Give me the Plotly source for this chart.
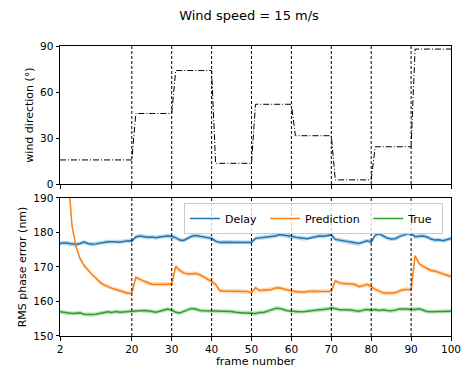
import plotly.graph_objects as go

frames = list(range(2, 101))

delay = [176.8, 177.0, 176.9, 176.6, 176.5, 176.8, 177.2, 176.8, 176.6, 176.7,
         177.0, 177.1, 177.3, 177.4, 177.3, 177.2, 177.5, 177.6, 177.5, 178.7,
         179.0, 178.8, 178.6, 178.7, 178.5, 178.7, 178.9, 179.0, 178.9, 178.5,
         177.8, 177.7, 178.3, 178.9, 179.1, 178.9, 178.6, 178.5, 178.3, 177.5,
         177.1, 177.2, 177.2, 177.3, 177.2, 177.2, 177.3, 177.3, 177.1, 178.3,
         178.4, 178.6, 178.7, 178.8, 179.0, 179.4, 179.3, 179.0, 178.9, 178.6,
         178.4, 178.2, 178.2, 178.5, 178.8, 179.0, 178.9, 179.1, 179.3, 178.0,
         177.8, 177.5, 177.2, 177.0, 176.8, 176.8, 177.2, 177.6, 177.2, 179.2,
         179.6, 179.0, 178.4, 178.1, 178.2, 178.8, 179.3, 179.6, 179.7, 178.8,
         178.9, 179.0, 178.7, 178.1, 177.8, 177.9, 177.6, 178.0, 178.3]

prediction = [260, 215, 197, 182, 176, 172.5, 170.5, 169.0, 167.8, 166.8,
              165.6, 164.8, 164.2, 163.8, 163.5, 163.1, 162.7, 162.4, 162.4, 167.0,
              166.4, 165.9, 165.3, 165.0, 164.9, 165.0, 165.0, 165.0, 165.0, 170.2,
              169.0, 168.3, 168.0, 168.0, 168.1, 167.8, 167.2, 166.5, 165.8, 165.0,
              163.2, 163.0, 163.1, 163.0, 163.0, 163.0, 162.8, 162.9, 162.5, 164.0,
              163.2, 163.3, 163.3, 163.5, 163.9, 164.0, 163.6, 163.3, 163.0, 162.8,
              162.8, 162.7, 162.9, 163.0, 163.0, 162.9, 163.0, 163.0, 163.0, 166.0,
              165.4, 165.2, 165.2, 165.1, 164.9, 164.3, 164.6, 165.0, 164.3, 163.5,
              163.0, 162.5, 162.4, 162.4, 162.5, 163.0, 163.4, 163.5, 163.5, 173.2,
              171.0, 170.2, 169.5, 169.0, 168.8, 168.5, 168.0, 167.6, 167.2]

true_vals = [157.0, 156.8, 156.6, 156.5, 156.6, 156.7, 156.3, 156.2, 156.2, 156.3,
             156.5, 156.8, 157.0, 156.8, 157.1, 156.9, 157.0, 157.1, 157.3, 157.2,
             157.5, 157.4, 157.3, 157.1, 156.9, 157.2, 157.6, 157.8, 157.5, 156.9,
             156.7, 157.1, 157.7, 158.0, 157.8, 157.4, 157.3, 157.3, 157.2, 157.2,
             157.2, 157.3, 157.2, 157.1, 156.9, 156.7, 156.7, 156.7, 156.6, 156.5,
             156.8, 156.8, 157.2, 157.5, 158.0, 158.0, 157.6, 157.3, 157.2, 157.0,
             157.0, 157.0, 157.2, 157.4, 157.5, 157.6, 157.7, 157.8, 158.2, 157.9,
             157.6, 157.6, 157.6, 157.5, 157.3, 157.2, 157.5, 157.7, 157.5, 157.7,
             157.4, 157.6, 157.4, 157.3, 157.5, 157.8, 157.8, 157.8, 157.6, 157.7,
             157.9, 157.4, 157.1, 157.0, 157.0, 157.0, 157.0, 157.2, 157.2]

band_halfwidth = 0.6

wind_frames = [2, 20, 21, 30, 31, 40, 41, 50, 51, 60, 61, 70, 71, 80, 81, 90, 91, 100]
wind_deg = [15.7, 15.7, 46, 46, 74, 74, 13.5, 13.5, 52, 52, 31.5, 31.5, 2.7, 2.7, 24.3, 24.3, 88, 88]

change_frames = [20, 30, 40, 50, 60, 70, 80, 90]
x_ticks = [2, 20, 30, 40, 50, 60, 70, 80, 90, 100]
wind_ticks = [0, 30, 60, 90]
err_ticks = [150, 160, 170, 180, 190]

series = [("Delay", delay, "#1f77b4", "rgba(31,119,180,0.3)"),
          ("Prediction", prediction, "#ff7f0e", "rgba(255,127,14,0.3)"),
          ("True", true_vals, "#2ca02c", "rgba(44,160,44,0.3)")]

FONT = "DejaVu Sans"
fig = go.Figure()

fig.add_trace(go.Scatter(x=wind_frames, y=wind_deg, mode="lines",
                         line=dict(color="black", width=1, dash="6px,2px,1px,2px"),
                         showlegend=False, xaxis="x", yaxis="y"))

for name, vals, col, fcol in series:
    upper = [v + band_halfwidth for v in vals]
    lower = [v - band_halfwidth for v in vals]
    fig.add_trace(go.Scatter(x=frames + frames[::-1], y=upper + lower[::-1],
                             fill="toself", fillcolor=fcol, line=dict(width=0),
                             mode="lines", showlegend=False, hoverinfo="skip",
                             xaxis="x2", yaxis="y2"))
    fig.add_trace(go.Scatter(x=frames, y=vals, mode="lines",
                             name=name + "\u00a0",
                             line=dict(color=col, width=1.5),
                             xaxis="x2", yaxis="y2"))

shapes = []
for f in change_frames:
    for xr, yref in [("x", "y domain"), ("x2", "y2 domain")]:
        shapes.append(dict(type="line", xref=xr, yref=yref, x0=f, x1=f, y0=0, y1=1,
                           line=dict(color="black", width=1, dash="3px,2px")))

axis_common = dict(showline=True, linecolor="black", linewidth=1, mirror=True,
                   ticks="outside", ticklen=3.5, tickcolor="black",
                   showgrid=False, zeroline=False, automargin=False,
                   tickfont=dict(family=FONT, size=10.5, color="black"))

fig.update_layout(
    width=469, height=369,
    margin=dict(l=60, r=18, t=46, b=33),
    paper_bgcolor="white", plot_bgcolor="white",
    font=dict(family=FONT, size=11, color="black"),
    title=dict(text="Wind speed = 15 m/s", x=249 / 469, xanchor="center",
               y=1 - 15 / 369, yanchor="middle", xref="container", yref="container",
               automargin=False,
               font=dict(family=FONT, size=13, color="black")),
    xaxis=dict(range=[2, 100], tickvals=x_ticks, showticklabels=False,
               anchor="y", matches="x2", **axis_common),
    yaxis=dict(range=[0, 90], tickvals=wind_ticks, domain=[0.5241, 1], anchor="x",
               title=dict(text="wind direction (°)", standoff=4,
                          font=dict(family=FONT, size=11)), **axis_common),
    xaxis2=dict(range=[2, 100], tickvals=x_ticks, anchor="y2",
                title=dict(text="frame number", standoff=2,
                           font=dict(family=FONT, size=11)), **axis_common),
    yaxis2=dict(range=[150, 190], tickvals=err_ticks, domain=[0, 0.4759], anchor="x2",
                title=dict(text="RMS phase error (nm)", standoff=4,
                           font=dict(family=FONT, size=11)), **axis_common),
    shapes=shapes,
    legend=dict(orientation="h", x=(443 - 60) / 391, xanchor="right",
                y=(336 - 203) / 290, yanchor="top",
                bgcolor="rgba(255,255,255,0.8)", bordercolor="#cccccc", borderwidth=1,
                font=dict(family=FONT, size=11, color="black"),
                itemwidth=30, tracegroupgap=0),
)

fig.write_html("out.html", config={"displayModeBar": False},
               post_script="document.body.style.margin='0';document.body.style.overflow='hidden';")
